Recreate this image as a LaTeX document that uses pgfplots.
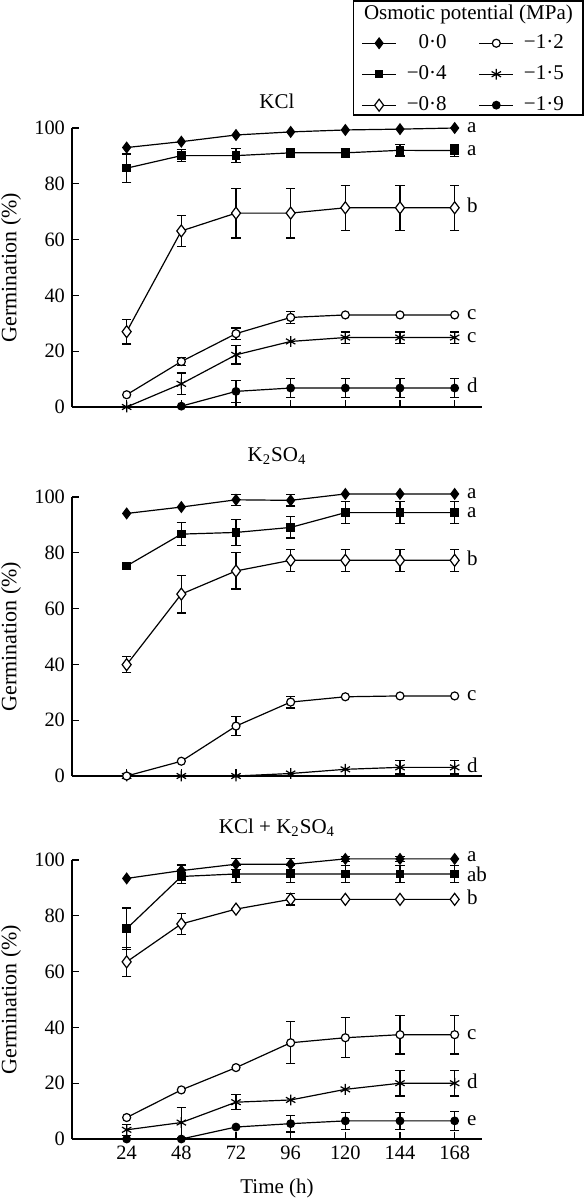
\documentclass[border=0pt]{standalone}
\usepackage{fontspec}
\setmainfont{Liberation Serif}
\usepackage{pgfplots}
\pgfplotsset{compat=1.18}

\tikzset{lett/.style={anchor=base west, inner sep=0pt, xshift=6pt, yshift=-2.4pt, font=\fontsize{10.5}{12}\selectfont}}
\pgfplotsset{
  panel/.style={
    scale only axis, width=205pt, height=139.5pt,
    xmin=0, xmax=180, ymin=0, ymax=100,
    axis lines=left, axis line style={-, line width=0.6pt},
    xtick={24,48,72,96,120,144,168}, ytick={0,20,40,60,80,100},
    tick style={line width=0.6pt, black}, major tick length=3.5pt,
    tick align=inside, clip=false,
    /pgf/number format/assume math mode=true,
    tick label style={font=\fontsize{10.2}{12}\selectfont},
    ylabel={Germination (\%)},
    every axis y label/.style={at={(rel axis cs:0,0.5)}, xshift=-30.5pt, rotate=90, anchor=center, font=\fontsize{11}{13}\selectfont},
  },
  ser/.style={black, line width=0.6pt, mark options={solid},
    error bars/y dir=both, error bars/y explicit,
    error bars/error mark=|,
    error bars/error bar style={line width=0.6pt},
    error bars/error mark options={line width=0.6pt, mark size=2.3pt}},
  s00/.style={ser, mark=diamond*, mark size=2.6pt, mark options={fill=black}},
  s04/.style={ser, mark=square*, mark size=1.8pt, mark options={fill=black}},
  s08/.style={ser, mark=diamond*, mark size=3pt, mark options={fill=white}},
  s12/.style={ser, mark=*, mark size=2pt, mark options={fill=white}},
  s15/.style={ser, mark=asterisk, mark size=2.7pt},
  s19/.style={ser, mark=*, mark size=1.9pt, mark options={fill=black}},
}

\begin{document}
\begin{tikzpicture}[x=1pt,y=1pt]
\path[use as bounding box] (0,0) rectangle (292,-599.5);

% ---------------- Panel 1: KCl ----------------
\begin{axis}[panel, at={(36pt,-203.5pt)}, anchor=south west, xticklabels={},
  legend columns=2, legend cell align=right,
  legend style={draw=none, fill=none, inner sep=0pt, at={(rel axis cs:0.705,1.35)}, anchor=north west,
    font=\fontsize{10.5}{12}\selectfont, row sep=3.0pt,
    /tikz/every even column/.append style={column sep=14pt},
    /tikz/every odd column/.append style={column sep=3pt}}]
\addlegendimage{s00}\addlegendentry{0·0}
\addlegendimage{s12}\addlegendentry{−1·2}
\addlegendimage{s04}\addlegendentry{−0·4}
\addlegendimage{s15}\addlegendentry{−1·5}
\addlegendimage{s08}\addlegendentry{−0·8}
\addlegendimage{s19}\addlegendentry{−1·9}

\addplot[s19, forget plot] coordinates {(48,0.3) (72,5.6) +- (0,4) (96,6.8) +- (0,3.5) (120,6.8) +- (0,3.5) (144,6.8) +- (0,3.5) (168,6.8) +- (0,3.5)};
\addplot[s15, forget plot] coordinates {(24,0) (48,8.3) +- (0,3.9) (72,18.7) +- (0,3.3) (96,23.5) (120,24.9) +- (0,2) (144,24.9) +- (0,2) (168,24.9) +- (0,2)};
\addplot[s12, forget plot] coordinates {(24,4.4) (48,16.3) +- (0,1.5) (72,26.3) +- (0,2) (96,32.1) +- (0,2.2) (120,33.0) (144,33.0) (168,33.0)};
\addplot[s08, forget plot] coordinates {(24,27.0) +- (0,4.4) (48,63.1) +- (0,5.6) (72,69.5) +- (0,8.9) (96,69.5) +- (0,8.9) (120,71.4) +- (0,8.0) (144,71.4) +- (0,8.0) (168,71.4) +- (0,8.0)};
\addplot[s04, forget plot] coordinates {(24,85.6) +- (0,5.1) (48,90.1) +- (0,2.2) (72,90.1) +- (0,2.5) (96,91.1) +- (0,1.5) (120,91.1) +- (0,1.5) (144,92.0) +- (0,2) (168,91.9) +- (0,2)};
\addplot[s00, forget plot] coordinates {(24,93.0) (48,95.1) (72,97.5) (96,98.6) (120,99.3) (144,99.6) (168,100.0)};

\node[lett] at (axis cs:168,100) {a};
\node[lett] at (axis cs:168,91.9) {a};
\node[lett] at (axis cs:168,71.4) {b};
\node[lett] at (axis cs:168,33) {c};
\node[lett] at (axis cs:168,24.9) {c};
\node[lett] at (axis cs:168,6.8) {d};
\node[anchor=base, font=\fontsize{10.5}{12}\selectfont] at ([yshift=10pt]rel axis cs:0.5,1) {KCl};
\end{axis}

% ---------------- Panel 2: K2SO4 ----------------
\begin{axis}[panel, at={(36pt,-388pt)}, anchor=south west, xticklabels={}]
\addplot[s15] coordinates {(24,0) (48,0) (72,0) (96,0.9) (120,2.4) (144,3.1) +- (0,2.4) (168,3.1) +- (0,2.4)};
\addplot[s12] coordinates {(24,0) (48,5.3) (72,17.9) +- (0,3.4) (96,26.5) +- (0,2.1) (120,28.4) (144,28.7) (168,28.7)};
\addplot[s08] coordinates {(24,39.9) +- (0,2.9) (48,65.2) +- (0,6.8) (72,73.5) +- (0,6.5) (96,77.3) +- (0,3.9) (120,77.3) +- (0,3.9) (144,77.3) +- (0,3.9) (168,77.3) +- (0,3.9)};
\addplot[s04] coordinates {(24,75.3) (48,86.7) +- (0,4.2) (72,87.3) +- (0,4.7) (96,89.1) +- (0,3.8) (120,94.4) +- (0,4) (144,94.4) +- (0,4) (168,94.4) +- (0,4)};
\addplot[s00] coordinates {(24,94.1) (48,96.4) (72,99.0) +- (0,2) (96,98.8) +- (0,2) (120,101.1) (144,101.1) (168,101.1)};

\node[lett] at (axis cs:168,101.1) {a};
\node[lett] at (axis cs:168,94.4) {a};
\node[lett] at (axis cs:168,77.3) {b};
\node[lett] at (axis cs:168,28.7) {c};
\node[lett] at (axis cs:168,3.1) {d};
\node[anchor=base, font=\fontsize{10.5}{12}\selectfont] at ([yshift=18pt]rel axis cs:0.5,1) {K\textsubscript{2}SO\textsubscript{4}};
\end{axis}

% ---------------- Panel 3: KCl + K2SO4 ----------------
\begin{axis}[panel, at={(36pt,-569.5pt)}, anchor=south west,
  xlabel={Time (h)},
  every axis x label/.style={at={(rel axis cs:0.5,0)}, yshift=-24.5pt, anchor=center, font=\fontsize{10.5}{12}\selectfont}]
\addplot[s19] coordinates {(24,0) (48,0) (72,4.3) (96,5.5) +- (0,3) (120,6.5) +- (0,3) (144,6.5) +- (0,3) (168,6.5) +- (0,3.5)};
\addplot[s15] coordinates {(24,3.3) +- (0,2) (48,5.9) +- (0,5.5) (72,13.2) +- (0,2.7) (96,14.0) (120,17.8) (144,20.0) +- (0,4.6) (168,20.0) +- (0,4.6)};
\addplot[s12] coordinates {(24,7.7) (48,17.6) (72,25.6) (96,34.5) +- (0,7.5) (120,36.3) +- (0,7.2) (144,37.4) +- (0,6.9) (168,37.4) +- (0,6.9)};
\addplot[s08] coordinates {(24,63.5) +- (0,5.2) (48,77.1) +- (0,3.7) (72,82.4) (96,85.9) +- (0,2) (120,85.9) (144,85.9) (168,85.9)};
\addplot[s04] coordinates {(24,75.4) +- (0,7.4) (48,94.1) +- (0,2.5) (72,95.0) +- (0,3) (96,95.0) +- (0,3) (120,95.0) +- (0,3) (144,95.0) +- (0,3) (168,95.0) +- (0,3)};
\addplot[s00] coordinates {(24,93.4) (48,96.2) +- (0,2) (72,98.5) +- (0,2) (96,98.5) +- (0,2) (120,100.4) +- (0,1) (144,100.4) +- (0,1) (168,100.4)};

\node[lett, yshift=1.2pt] at (axis cs:168,100.4) {a};
\node[lett, yshift=-1.2pt] at (axis cs:168,95) {ab};
\node[lett] at (axis cs:168,85.9) {b};
\node[lett] at (axis cs:168,37.4) {c};
\node[lett] at (axis cs:168,20) {d};
\node[lett] at (axis cs:168,6.5) {e};
\node[anchor=base, font=\fontsize{10.5}{12}\selectfont] at ([yshift=13.5pt]rel axis cs:0.5,1) {KCl + K\textsubscript{2}SO\textsubscript{4}};
\end{axis}

% legend frame and title
\draw[line width=0.8pt] (176.8,-0.4) rectangle (291.6,-57.5);
\node[anchor=base, font=\fontsize{10.5}{12}\selectfont] at (234.2,-9.5) {Osmotic potential (MPa)};
\end{tikzpicture}
\end{document}
